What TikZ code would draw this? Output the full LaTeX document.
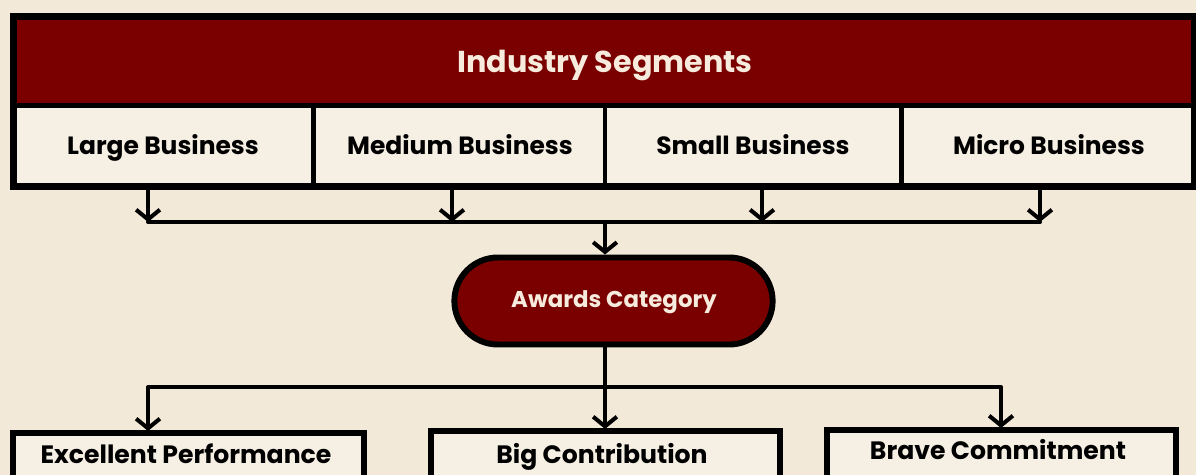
\documentclass[tikz,border=0pt]{standalone}
\usepackage{fontspec}
\setmainfont{Poppins}
\usetikzlibrary{arrows.meta,shapes.misc}
\definecolor{bg}{HTML}{F3E9D9}
\definecolor{cellbg}{HTML}{F6EFE4}
\definecolor{darkred}{HTML}{7A0000}
\definecolor{cream}{HTML}{F6EBDD}
\tikzset{
  x=0.02cm, y=-0.02cm,
  frame/.style={draw=black, line width=3.97pt},
  sep/.style={draw=black, line width=2.83pt},
  conn/.style={draw=black, line width=2.3pt},
  arr/.style={conn, -{Straight Barb[length=5.5pt,width=13.5pt,line width=2.3pt]}},
  celltext/.style={font=\bfseries\fontsize{14.2}{17}\selectfont, text=black, inner sep=0pt, anchor=base},
  titletext/.style={font=\bfseries\fontsize{17.2}{20}\selectfont, text=cream, inner sep=0pt, anchor=base},
  pill/.style={rounded rectangle, draw=black, line width=3.4pt, fill=darkred,
    minimum width=6.6cm, minimum height=1.74cm},
  pilltext/.style={font=\bfseries\fontsize{13}{15}\selectfont, text=cream, inner sep=0pt, anchor=base},
  bottombox/.style={draw=black, line width=3.6pt, fill=cellbg},
  boxtext/.style={font=\bfseries\fontsize{14.3}{17}\selectfont, text=black, inner sep=0pt, anchor=base},
}
\begin{document}
\begin{tikzpicture}
\useasboundingbox (0,0) rectangle (1196,475);
\clip (0,0) rectangle (1196,475);
\fill[bg] (0,0) rectangle (1196,475);
% header
\fill[darkred] (13,16) rectangle (1194,105);
\fill[cellbg] (13,105) rectangle (1194,186);
\draw[sep] (13,105.5) -- (1194,105.5);
\draw[sep] (313.5,105.5) -- (313.5,186.5);
\draw[sep] (605,105.5) -- (605,186.5);
\draw[sep] (901,105.5) -- (901,186.5);
\draw[frame] (13.5,16.5) rectangle (1194,186.5);
\node[titletext] (title) at (605,73) {Industry Segments};
\node[celltext] (large) at (163,155) {Large Business};
\node[celltext] (medium) at (460,155) {Medium Business};
\node[celltext] (small) at (753,155) {Small Business};
\node[celltext] (micro) at (1049,155) {Micro Business};
% top bus
\coordinate (l1) at (148,189);
\coordinate (l2) at (452,189);
\coordinate (l3) at (762,189);
\coordinate (l4) at (1040,189);
\coordinate (b1) at (148,222);
\coordinate (b2) at (452,222);
\coordinate (b3) at (762,222);
\coordinate (b4) at (1040,222);
\coordinate (bc) at (605,222);
\draw[conn, line cap=round] (b1) -- (b4);
\draw[arr] (l1) -- (b1);
\draw[arr] (l2) -- (b2);
\draw[arr] (l3) -- (b3);
\draw[arr] (l4) -- (b4);
% awards
\node[pill] (awards) at (613.5,301) {};
\node[pilltext] (awardstext) at (614,308) {Awards Category};
\draw[arr] (bc) -- (bc |- awards.north);
% bottom boxes
\draw[bottombox] (13,433) rectangle (364,490);
\draw[bottombox] (431,431) rectangle (780,490);
\draw[bottombox] (827,430) rectangle (1176,490);
\coordinate (e) at (148,431);
\coordinate (bg2) at (605,429);
\coordinate (bv) at (1001,428);
\node[boxtext] (exc) at (186,464) {Excellent Performance};
\node[boxtext] (big) at (602,464) {Big Contribution};
\node[boxtext] (brave) at (998,460) {Brave Commitment};
\coordinate (d1) at (148,387);
\coordinate (d3) at (1001,387);
\draw[conn, line cap=round] (d1) -- (d3);
\draw[arr] (d1) -- (e);
\draw[arr] (d3) -- (bv);
\draw[arr] (bg2 |- awards.south) -- (bg2);
\end{tikzpicture}
\end{document}
